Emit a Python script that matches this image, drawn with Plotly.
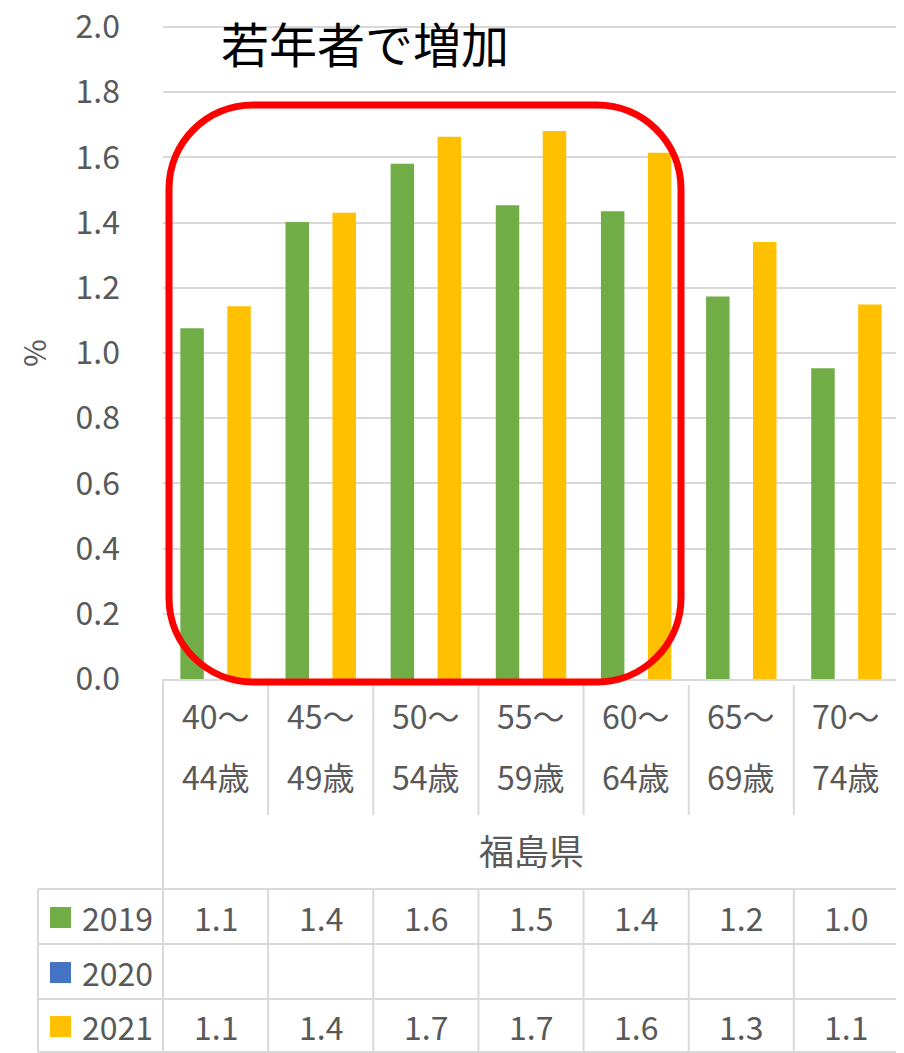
import plotly.graph_objects as go

# ---- data ----
categories = ["40～44歳", "45～49歳", "50～54歳", "55～59歳", "60～64歳", "65～69歳", "70～74歳"]
series_names = ["2019", "2020", "2021"]
values_2019 = [1.076, 1.402, 1.580, 1.453, 1.435, 1.173, 0.953]
values_2020 = [None, None, None, None, None, None, None]
values_2021 = [1.143, 1.430, 1.663, 1.681, 1.614, 1.340, 1.149]
colors = ["#70AD47", "#4472C4", "#FFC000"]
group_label = "福島県"
title_text = "若年者で増加"
y_title = "%"
y_ticks = [0.0, 0.2, 0.4, 0.6, 0.8, 1.0, 1.2, 1.4, 1.6, 1.8, 2.0]

FONT = "Noto Sans CJK JP"
GREY = "#595959"
LINE = "#d9d9d9"

# page offset (browser body margin)
OFF = 8
SCR_W, SCR_H = 904, 1053
W, H = SCR_W - OFF, SCR_H - OFF
# plot area in screen pixels: value 2.0 sits at y=27, 0.0 at y=679
Y_TOP_VAL = 2.0
Y_MAX = 2.012
PL, PR, PB = 163, 899, 679
PT = PB - (PB - 27) * Y_MAX / Y_TOP_VAL
PW = PR - PL
PH = PB - PT


def fx(px):
    return (px - PL) / PW


def fy(py):
    return (PB - py) / PH


fig = go.Figure()
all_vals = [values_2019, values_2020, values_2021]
xs = list(range(len(categories)))
for name, vals, c in zip(series_names, all_vals, colors):
    fig.add_trace(go.Bar(x=xs, y=vals, name=name, marker=dict(color=c, line=dict(width=0)),
                         showlegend=False))

shapes = []
annotations = []
FS = 32

# Category labels (two lines)
for i, cat in enumerate(categories):
    top, bottom = cat.split("～")
    annotations.append(dict(x=i, xref="x", y=fy(715), yref="paper", text=top + "～",
                            showarrow=False, font=dict(family=FONT, size=FS, color=GREY),
                            xanchor="center", yanchor="middle"))
    annotations.append(dict(x=i, xref="x", y=fy(776), yref="paper", text=bottom,
                            showarrow=False, font=dict(family=FONT, size=FS, color=GREY),
                            xanchor="center", yanchor="middle"))

annotations.append(dict(x=0.5, xref="paper", y=fy(849), yref="paper", text=group_label,
                        showarrow=False, font=dict(family=FONT, size=35, color=GREY),
                        xanchor="center", yanchor="middle"))

# Table lines
lw = 2
shapes.append(dict(type="line", xref="paper", yref="paper", x0=0, x1=0, y0=fy(679), y1=fy(1052),
                   line=dict(color=LINE, width=lw)))
shapes.append(dict(type="line", xref="paper", yref="paper", x0=1, x1=1, y0=fy(679), y1=fy(1052),
                   line=dict(color=LINE, width=lw)))
shapes.append(dict(type="line", xref="paper", yref="paper", x0=fx(38), x1=fx(38), y0=fy(889), y1=fy(1052),
                   line=dict(color=LINE, width=lw)))
for i in range(len(categories) - 1):
    shapes.append(dict(type="line", xref="x", yref="paper", x0=i + 0.5, x1=i + 0.5, y0=fy(685), y1=fy(815),
                       line=dict(color=LINE, width=lw)))
    shapes.append(dict(type="line", xref="x", yref="paper", x0=i + 0.5, x1=i + 0.5, y0=fy(889), y1=fy(1052),
                       line=dict(color=LINE, width=lw)))
row_lines = [889, 944, 999, 1052]
for ry in row_lines:
    shapes.append(dict(type="line", xref="paper", yref="paper", x0=fx(38), x1=1, y0=fy(ry), y1=fy(ry),
                       line=dict(color=LINE, width=lw)))

# Data rows
for r, (name, vals, c) in enumerate(zip(series_names, all_vals, colors)):
    top = row_lines[r]
    bot = row_lines[r + 1]
    cy = (top + bot) / 2
    shapes.append(dict(type="rect", xref="paper", yref="paper", x0=fx(50), x1=fx(71),
                       y0=fy(cy - 9.5), y1=fy(cy + 11.5), fillcolor=c, line=dict(width=0)))
    annotations.append(dict(x=fx(80), xref="paper", y=fy(cy), yref="paper", text=name,
                            showarrow=False, font=dict(family=FONT, size=FS, color=GREY),
                            xanchor="left", yanchor="middle"))
    for i, v in enumerate(vals):
        if v is None:
            continue
        annotations.append(dict(x=i, xref="x", y=fy(cy), yref="paper", text=f"{v:.1f}",
                                showarrow=False, font=dict(family=FONT, size=FS, color=GREY),
                                xanchor="center", yanchor="middle"))

# y-axis title
annotations.append(dict(x=fx(33), xref="paper", y=fy(353), yref="paper", text=y_title, textangle=-90,
                        showarrow=False, font=dict(family=FONT, size=30, color=GREY),
                        xanchor="center", yanchor="middle"))

# Callout title
annotations.append(dict(x=fx(365), xref="paper", y=fy(42), yref="paper", text=title_text,
                        showarrow=False, font=dict(family=FONT, size=48, color="#000000"),
                        xanchor="center", yanchor="middle"))

# Red rounded rectangle (pixel geometry converted to paper coords)
x0p, x1p, y0p, y1p, rad = 169, 681, 105, 682, 84
k = 0.5523 * rad


def P(px, py):
    return f"{fx(px):.5f},{fy(py):.5f}"


path = (
    f"M {P(x0p + rad, y0p)} L {P(x1p - rad, y0p)} "
    f"C {P(x1p - rad + k, y0p)} {P(x1p, y0p + rad - k)} {P(x1p, y0p + rad)} "
    f"L {P(x1p, y1p - rad)} "
    f"C {P(x1p, y1p - rad + k)} {P(x1p - rad + k, y1p)} {P(x1p - rad, y1p)} "
    f"L {P(x0p + rad, y1p)} "
    f"C {P(x0p + rad - k, y1p)} {P(x0p, y1p - rad + k)} {P(x0p, y1p - rad)} "
    f"L {P(x0p, y0p + rad)} "
    f"C {P(x0p, y0p + rad - k)} {P(x0p + rad - k, y0p)} {P(x0p + rad, y0p)} Z"
)
shapes.append(dict(type="path", xref="paper", yref="paper", path=path,
                   line=dict(color="#FF0000", width=7), fillcolor="rgba(0,0,0,0)", layer="above"))

fig.update_layout(
    width=W, height=H,
    margin=dict(l=PL - OFF, r=SCR_W - PR, t=PT - OFF, b=SCR_H - PB, autoexpand=False),
    paper_bgcolor="white", plot_bgcolor="white",
    barmode="group", bargap=0.33, bargroupgap=0,
    font=dict(family=FONT, color=GREY),
    xaxis=dict(range=[-0.5, len(categories) - 0.5], showticklabels=False, showgrid=False,
               zeroline=False, showline=True, linecolor=LINE, linewidth=2, ticks=""),
    yaxis=dict(range=[0, Y_MAX], tickvals=y_ticks, ticktext=[f"{t:.1f}" for t in y_ticks],
               showgrid=True, gridcolor=LINE, gridwidth=2, zeroline=False, showline=False,
               tickfont=dict(family=FONT, size=FS, color=GREY), ticklabelstandoff=42,
               ticklabeloverflow="allow"),
    shapes=shapes,
    annotations=annotations,
)

fig.write_html("out.html")
